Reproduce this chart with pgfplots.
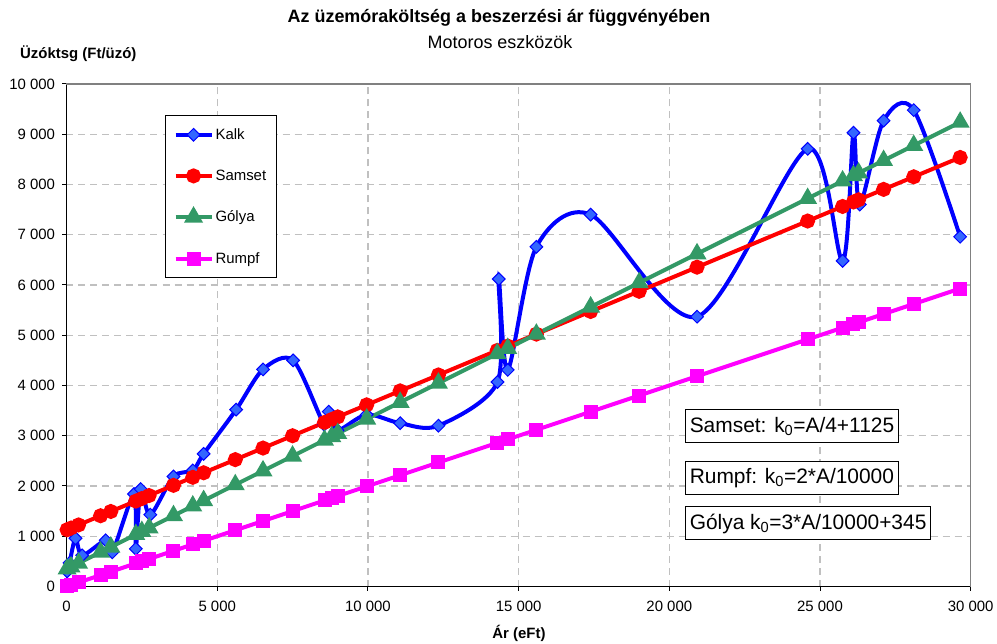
\documentclass[border=0pt]{standalone}
\usepackage{fontspec}
\setmainfont{Liberation Sans}
\usepackage{pgfplots}
\pgfplotsset{compat=1.18}
\definecolor{kalkline}{RGB}{0,0,255}
\definecolor{kalkfill}{RGB}{51,102,255}
\definecolor{golya}{RGB}{51,153,102}
\definecolor{rumpf}{RGB}{255,0,255}
\definecolor{samset}{RGB}{255,0,0}
\definecolor{gridc}{RGB}{192,192,192}
\definecolor{bordc}{RGB}{128,128,128}
\begin{document}
\begin{tikzpicture}
\begin{axis}[
  scale only axis, width=904.2bp, height=502.5bp,
  xmin=0, xmax=30000, ymin=0, ymax=10000,
  scaled ticks=false,
  xtick={0,5000,10000,15000,20000,25000,30000},
  ytick={0,1000,2000,3000,4000,5000,6000,7000,8000,9000,10000},
  xticklabels={0,5 000,10 000,15 000,20 000,25 000,30 000},
  yticklabels={0,1 000,2 000,3 000,4 000,5 000,6 000,7 000,8 000,9 000,10 000},
  ticklabel style={font=\fontsize{15}{15}\selectfont},
  xticklabel style={yshift=-7bp},
  yticklabel style={xshift=-4bp},
  axis x line*=bottom, axis y line*=left,
  axis line style={-, black, line width=1.3bp},
  tick align=outside, major tick length=4bp, tick style={black, line width=1bp},
  grid=major, major grid style={gridc, dash pattern=on 7bp off 5bp, line width=1.2bp},
  clip=false,
  legend style={at={(0.109,0.938)}, anchor=north west, draw=black, line width=1bp, fill=white,
    font=\fontsize{15}{15}\selectfont, row sep=25bp, inner xsep=8bp, inner ysep=11bp,
    cells={anchor=west}},
  legend image code/.code={\draw[mark repeat=2,mark phase=2] plot coordinates {(0bp,0bp)(18bp,0bp)(36bp,0bp)};},
]
\draw[bordc, line width=1.2bp] (rel axis cs:0,1) -- (rel axis cs:1,1) -- (rel axis cs:1,0);
\coordinate (bl) at (rel axis cs:0,0);
\coordinate (tr) at (rel axis cs:1,1);

\addplot[kalkline, line width=4bp, smooth, mark=square*, mark size=4.5bp,
  mark options={rotate=45, fill=kalkfill, draw=kalkline, line width=1bp, solid}] coordinates {
(20,300) (100,470) (300,960) (520,620) (1300,920) (1520,680) (2240,1840) (2300,750)
(2460,1940) (2780,1430) (3550,2190) (4190,2310) (4550,2640) (5630,3520) (6520,4320)
(7520,4500) (8550,3220) (8700,3480) (8990,3110) (9960,3420) (11070,3250) (12340,3200)
(14300,4070) (14340,6120) (14640,4310) (15590,6760) (17390,7400) (20920,5370)
(24590,8710) (25750,6480) (26110,9030) (26320,7600) (27110,9270) (28110,9480) (29650,6960)
};
\addlegendentry{Kalk}

\addplot[samset, line width=4bp, mark=*, mark size=5.5bp, mark options={solid}] coordinates {
(20,1130) (150,1163) (400,1225) (1130,1408) (1470,1493) (2300,1700) (2500,1750) (2740,1810)
(3550,2013) (4190,2173) (4550,2263) (5600,2525) (6520,2755) (7500,3000) (8560,3265)
(8800,3325) (9000,3375) (9960,3615) (11070,3893) (12340,4210) (14290,4698) (14640,4785)
(15590,5023) (17390,5473) (19000,5875) (20920,6355) (24590,7273) (25750,7563) (26110,7653)
(26280,7695) (27110,7903) (28110,8153) (29650,8538)
};
\addlegendentry{Samset}

\addplot[golya, line width=4bp, mark=triangle*, mark size=7bp, mark options={solid}] coordinates {
(20,351) (150,390) (400,465) (1130,684) (1470,786) (2300,1035) (2500,1095) (2740,1167)
(3550,1410) (4190,1602) (4550,1710) (5600,2025) (6520,2301) (7500,2595) (8560,2913)
(8800,2985) (9000,3045) (9960,3333) (11070,3666) (12340,4047) (14290,4632) (14640,4737)
(15590,5022) (17390,5562) (19000,6045) (20920,6621) (24590,7722) (25750,8070) (26110,8178)
(26280,8229) (27110,8478) (28110,8778) (29650,9240)
};
\addlegendentry{Gólya}

\addplot[rumpf, line width=4bp, mark=square*, mark size=5bp, mark options={solid}] coordinates {
(20,4) (150,30) (400,80) (1130,226) (1470,294) (2300,460) (2500,500) (2740,548)
(3550,710) (4190,838) (4550,910) (5600,1120) (6520,1304) (7500,1500) (8560,1712)
(8800,1760) (9000,1800) (9960,1992) (11070,2214) (12340,2468) (14290,2858) (14640,2928)
(15590,3118) (17390,3478) (19000,3800) (20920,4184) (24590,4918) (25750,5150) (26110,5222)
(26280,5256) (27110,5422) (28110,5622) (29650,5930)
};
\addlegendentry{Rumpf}

\node[draw=black, line width=1bp, fill=white, anchor=west, inner xsep=4bp, minimum height=33bp,
  font=\fontsize{21}{21}\selectfont] at (axis cs:20530,3186) {Samset: k\textsubscript{0}=A/4+1125};
\node[draw=black, line width=1bp, fill=white, anchor=west, inner xsep=4bp, minimum height=33bp,
  font=\fontsize{21}{21}\selectfont] at (axis cs:20530,2161) {Rumpf: k\textsubscript{0}=2*A/10000};
\node[draw=black, line width=1bp, fill=white, anchor=west, inner xsep=4bp, minimum height=33bp,
  font=\fontsize{21}{21}\selectfont] at (axis cs:20530,1254) {Gólya k\textsubscript{0}=3*A/10000+345};
\end{axis}
\node[font=\fontsize{18}{18}\selectfont\bfseries] at ([xshift=432.5bp,yshift=568.5bp]bl) {Az üzemóraköltség a beszerzési ár függvényében};
\node[font=\fontsize{18}{18}\selectfont] at ([xshift=433.5bp,yshift=544.5bp]bl) {Motoros eszközök};
\node[font=\fontsize{15}{15}\selectfont\bfseries, anchor=west, inner sep=0pt] at ([xshift=-46.5bp,yshift=532.5bp]bl) {Üzóktsg (Ft/üzó)};
\node[font=\fontsize{15}{15}\selectfont\bfseries] at ([xshift=452.5bp,yshift=-46.5bp]bl) {Ár (eFt)};
\pgfresetboundingbox
\path ([xshift=-66.5bp,yshift=-57.5bp]bl) rectangle ([xshift=26.3bp,yshift=84bp]tr);
\end{tikzpicture}
\end{document}
